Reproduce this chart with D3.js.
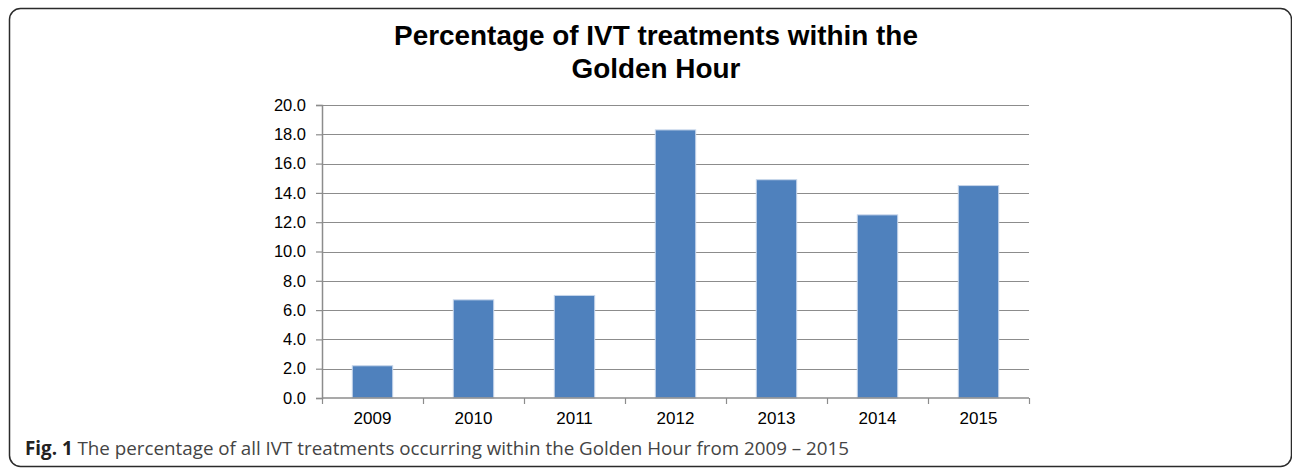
<!DOCTYPE html>
<html>
<head>
<meta charset="utf-8">
<script src="https://cdn.jsdelivr.net/npm/d3@7"></script>
<style>
  html, body { margin: 0; padding: 0; background: #fff; }
  svg { display: block; }
</style>
</head>
<body>
<script>
const years = ['2009', '2010', '2011', '2012', '2013', '2014', '2015']
const percentages = [2.2, 6.7, 7.0, 18.3, 14.9, 12.5, 14.5]
const yTicks = [0, 2, 4, 6, 8, 10, 12, 14, 16, 18, 20]
const titleLines = ['Percentage of IVT treatments within the', 'Golden Hour']
const captionBold = 'Fig. 1'
const captionText = ' The percentage of all IVT treatments occurring within the Golden Hour from 2009 \u2013 2015'

const width = 1292, height = 468
const plot = { left: 322, right: 1029, top: 105, bottom: 398 }

const svg = d3.select('body').append('svg')
  .attr('width', width)
  .attr('height', height)

// rounded frame round the figure
svg.append('rect')
  .attr('x', 9.5).attr('y', 8.5)
  .attr('width', 1282).attr('height', 458)
  .attr('rx', 11)
  .attr('fill', 'none')
  .attr('stroke', '#2b2b2b')
  .attr('stroke-width', 1.5)

let x = d3.scaleBand()
  .domain(years)
  .range([plot.left, plot.right])
  .paddingInner(0.6)
  .paddingOuter(0.3)

let y = d3.scaleLinear()
  .domain([0, 20])
  .range([plot.bottom, plot.top])

// title
svg.append('text')
  .attr('text-anchor', 'middle')
  .attr('font-family', 'Liberation Sans, Arial, sans-serif')
  .attr('font-weight', 'bold')
  .attr('font-size', 27.9)
  .attr('fill', '#000')
  .selectAll('tspan')
  .data(titleLines)
  .join('tspan')
  .attr('x', 656)
  .attr('y', (d, i) => 45 + i * 33)
  .text(d => d)

// gridlines
svg.append('g')
  .selectAll('line')
  .data(yTicks.slice(1))
  .join('line')
  .attr('x1', plot.left).attr('x2', plot.right)
  .attr('y1', d => Math.round(y(d)) + 0.5)
  .attr('y2', d => Math.round(y(d)) + 0.5)
  .attr('stroke', '#8c8c8c')
  .attr('stroke-width', 1.2)

// y axis
let yAxis = svg.append('g')
  .attr('transform', `translate(${plot.left},0)`)
  .call(d3.axisLeft(y).tickValues(yTicks).tickFormat(d3.format('.1f')).tickSize(6).tickPadding(10))
yAxis.select('.domain').attr('stroke', '#8c8c8c').attr('stroke-width', 1.5)
yAxis.selectAll('.tick line').attr('stroke', '#8c8c8c').attr('stroke-width', 1.2)
yAxis.selectAll('.tick text')
  .attr('font-family', 'Liberation Sans, Arial, sans-serif')
  .attr('font-size', 16.5)
  .attr('fill', '#000')

// bars
svg.append('g')
  .selectAll('rect')
  .data(years)
  .join('rect')
  .attr('x', d => x(d))
  .attr('width', x.bandwidth())
  .attr('y', (d, i) => y(percentages[i]))
  .attr('height', (d, i) => y(0) - y(percentages[i]))
  .attr('fill', '#4f81bd')
  .attr('stroke', '#c6d5ea')
  .attr('stroke-width', 1)

// x axis, ticks sit between the categories
let xAxis = svg.append('g')
  .attr('transform', `translate(0,${plot.bottom})`)
xAxis.append('line')
  .attr('x1', plot.left).attr('x2', plot.right)
  .attr('stroke', '#8c8c8c')
  .attr('stroke-width', 1.5)
xAxis.selectAll('.sep')
  .data(d3.range(years.length + 1))
  .join('line')
  .attr('class', 'sep')
  .attr('x1', i => Math.round(plot.left + i * x.step()) + 0.5)
  .attr('x2', i => Math.round(plot.left + i * x.step()) + 0.5)
  .attr('y1', 0).attr('y2', 6)
  .attr('stroke', '#8c8c8c')
  .attr('stroke-width', 1.2)
xAxis.selectAll('.lbl')
  .data(years)
  .join('text')
  .attr('class', 'lbl')
  .attr('x', d => x(d) + x.bandwidth() / 2)
  .attr('y', 26)
  .attr('text-anchor', 'middle')
  .attr('font-family', 'Liberation Sans, Arial, sans-serif')
  .attr('font-size', 17)
  .attr('fill', '#000')
  .text(d => d)

// caption
let caption = svg.append('text')
  .attr('x', 25)
  .attr('y', 455)
  .attr('font-family', 'Open Sans, sans-serif')
  .attr('font-size', 18.8)
  .attr('fill', '#444')
caption.append('tspan').attr('font-weight', 'bold').attr('fill', '#222').text(captionBold)
caption.append('tspan').text(captionText)
</script>
</body>
</html>
